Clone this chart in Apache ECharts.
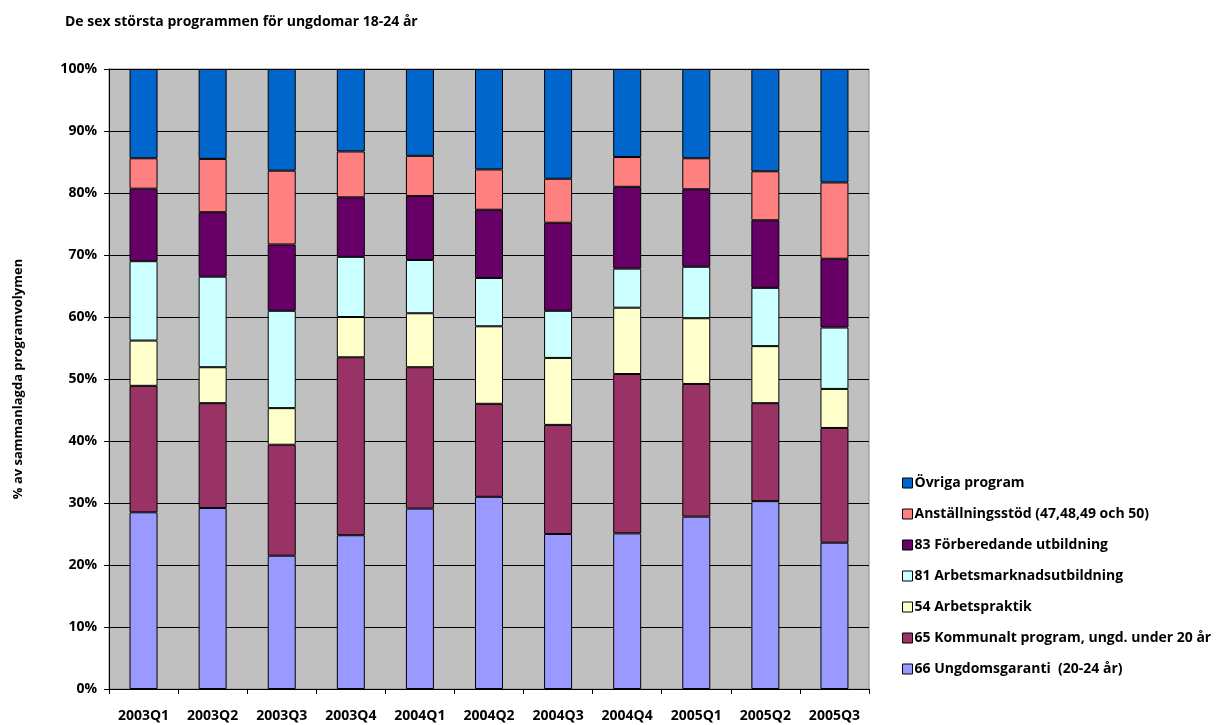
<!DOCTYPE html>
<html>
<head>
<meta charset="UTF-8">
<title>De sex största programmen</title>
<script src="https://cdn.jsdelivr.net/npm/echarts@6/dist/echarts.min.js"></script>
<style>
  html, body { margin: 0; padding: 0; background: #fff; }
  #main { width: 1221px; height: 725px; }
</style>
</head>
<body>
<div id="main"></div>
<script>
// kvartal
var quarters = ['2003Q1','2003Q2','2003Q3','2003Q4','2004Q1','2004Q2','2004Q3','2004Q4','2005Q1','2005Q2','2005Q3'];
var yTicks = [0, 10, 20, 30, 40, 50, 60, 70, 80, 90, 100];

// andel av programvolymen (%)
var ungdomsgaranti = [28.5, 29.2, 21.5, 24.8, 29.1, 31.0, 25.0, 25.1, 27.8, 30.3, 23.6];
var kommunalt      = [20.4, 16.9, 17.9, 28.7, 22.8, 15.0, 17.6, 25.7, 21.4, 15.8, 18.5];
var arbetspraktik  = [ 7.3,  5.8,  5.9,  6.5,  8.7, 12.5, 10.8, 10.7, 10.6,  9.2,  6.3];
var amu            = [12.8, 14.6, 15.7,  9.7,  8.6,  7.8,  7.6,  6.3,  8.3,  9.4,  9.9];
var forberedande   = [11.7, 10.4, 10.7,  9.6, 10.3, 11.0, 14.2, 13.2, 12.5, 10.9, 11.1];
var anstallning    = [ 4.9,  8.6, 11.9,  7.4,  6.5,  6.5,  7.1,  4.8,  5.0,  7.9, 12.3];
var ovriga         = [14.4, 14.5, 16.4, 13.3, 14.0, 16.2, 17.7, 14.2, 14.4, 16.5, 18.3];

var names = [
  '66 Ungdomsgaranti  (20-24 år)',
  '65 Kommunalt program, ungd. under 20 år',
  '54 Arbetspraktik',
  '81 Arbetsmarknadsutbildning',
  '83 Förberedande utbildning',
  'Anställningsstöd (47,48,49 och 50)',
  'Övriga program'
];
var colors = ['#9999FF', '#993366', '#FFFFCC', '#CCFFFF', '#660066', '#FF8080', '#0066CC'];
var values = [ungdomsgaranti, kommunalt, arbetspraktik, amu, forberedande, anstallning, ovriga];

var font = '"Open Sans", Lato, sans-serif';

var series = [];
for (var i = 0; i < names.length; i++) {
  series.push({
    name: names[i],
    type: 'bar',
    stack: 'tot',
    barWidth: 28,
    data: values[i],
    itemStyle: { color: colors[i], borderColor: '#000', borderWidth: 1 }
  });
}

var myChart = echarts.init(document.getElementById('main'));
var option = {
  animation: false,
  title: {
    text: 'De sex största programmen för ungdomar 18-24 år',
    left: 60,
    top: 10,
    textStyle: { fontFamily: font, fontSize: 14, fontWeight: 'bold', color: '#000' }
  },
  legend: {
    orient: 'vertical',
    left: 897,
    top: 471,
    itemWidth: 10,
    itemHeight: 10,
    itemGap: 17,
    icon: 'rect',
    data: names.slice().reverse(),
    itemStyle: { borderColor: '#000', borderWidth: 1 },
    textStyle: { fontFamily: font, fontSize: 14, fontWeight: 'bold', color: '#000', padding: [0, 0, 0, -3] }
  },
  grid: {
    left: 109,
    right: 352,
    top: 69,
    bottom: 36,
    show: true,
    backgroundColor: '#C0C0C0',
    borderColor: '#888',
    borderWidth: 1
  },
  xAxis: {
    type: 'category',
    data: quarters,
    axisLine: { lineStyle: { color: '#000', width: 1 } },
    axisTick: { show: true, length: 5, lineStyle: { color: '#000' } },
    axisLabel: { fontFamily: font, fontSize: 14, fontWeight: 'bold', color: '#000', margin: 20 }
  },
  yAxis: {
    type: 'value',
    min: yTicks[0],
    max: yTicks[yTicks.length - 1],
    interval: 10,
    name: '% av sammanlagda programvolymen',
    nameLocation: 'middle',
    nameGap: 84,
    nameTextStyle: { fontFamily: font, fontSize: 13, fontWeight: 'bold', color: '#000' },
    axisLine: { show: true, lineStyle: { color: '#000' } },
    axisTick: { show: true, length: 5, lineStyle: { color: '#000' } },
    splitLine: { lineStyle: { color: '#000', width: 1 } },
    axisLabel: {
      fontFamily: font, fontSize: 14, fontWeight: 'bold', color: '#000', margin: 12,
      formatter: function (v) { return v + '%'; }
    }
  },
  series: series
};
myChart.setOption(option);
</script>
</body>
</html>
